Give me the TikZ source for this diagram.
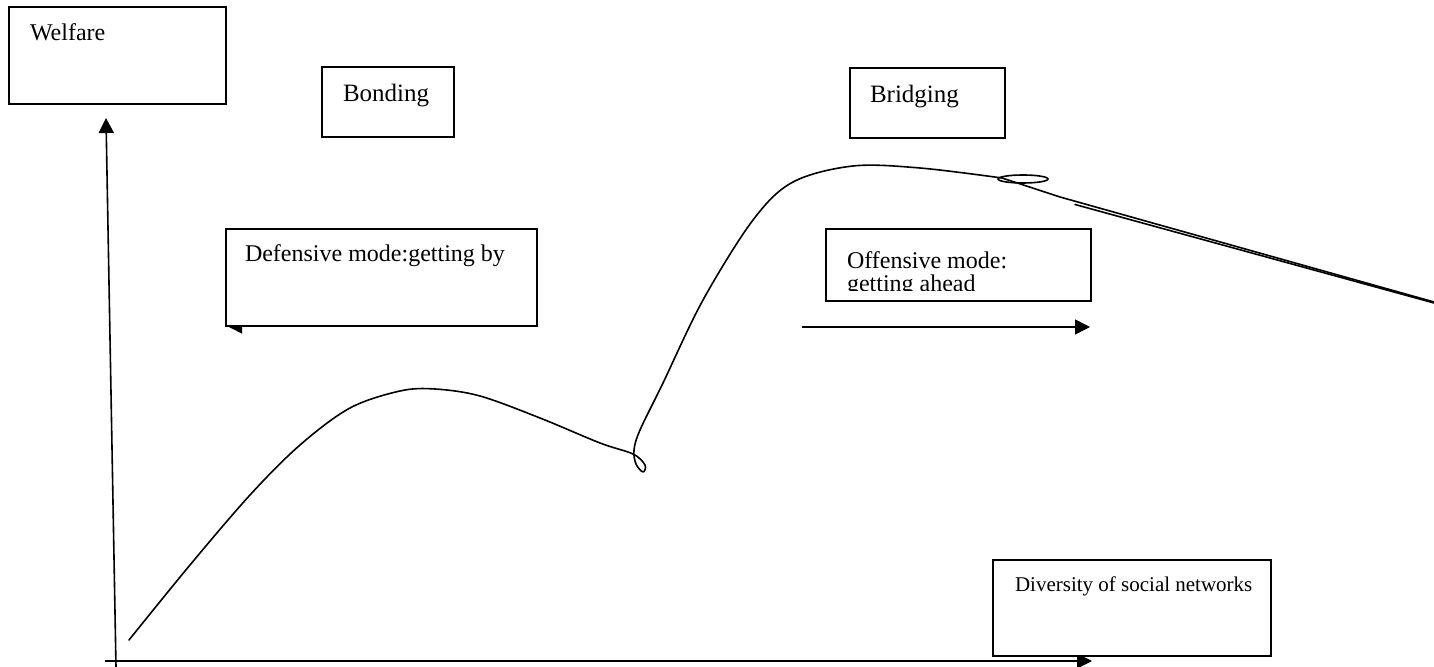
\documentclass[tikz,border=0pt]{standalone}
\usepackage{fontspec}
\setmainfont{Liberation Serif}
\usetikzlibrary{arrows.meta}
\begin{document}
\begin{tikzpicture}[x=0.5pt,y=-0.5pt,
  frame/.style={draw=black,line width=1pt,fill=white,inner sep=0pt,outer sep=0pt,anchor=north west},
  lbl/.style={inner sep=0pt,outer sep=0pt,anchor=base west,font=\fontsize{12pt}{14pt}\selectfont},
  biglbl/.style={lbl,font=\fontsize{12.5pt}{15pt}\selectfont},
  smalllbl/.style={lbl,font=\fontsize{10.5pt}{12pt}\selectfont},
  axis/.style={line width=0.8pt,-{Triangle[length=7.5pt,width=7.5pt]}},
  curve/.style={line width=0.8pt,line join=round,line cap=round}]
\useasboundingbox (0,0) rectangle (1434,667);

% axes
\coordinate (yfoot) at (116,667);
\coordinate (ytip) at (106,118);
\coordinate (xfoot) at (105,661);
\coordinate (xtip) at (1092,661);
\draw[axis] (yfoot) -- (ytip);
\draw[axis] (xfoot) -- (xtip);

% welfare curve
\draw[curve] plot[smooth,tension=0.55] coordinates {
  (129,640) (190,565) (250,495) (300,445) (350,408) (400,391) (435,389)
  (480,396) (540,418) (600,443) (633,454) (645,465) (643,472) (636,464)
  (634,450) (640,430) (663,383) (703,300) (753,220) (793,182) (853,166)
  (920,168) (1002,178)} coordinate (bend);
\coordinate (knee) at (1060,197);
\coordinate (tailend) at (1434,302);
\draw[curve] (bend) -- (knee) -- (tailend);
\coordinate (dblstart) at (1075,204.5);
\coordinate (dblend) at (1434,303);
\draw[curve] (dblstart) -- (dblend);
\draw[line width=0.8pt] (1023,179) ellipse [x radius=12.5pt, y radius=2pt];

% direction arrows
\coordinate (defR) at (537,326);
\coordinate (defL) at (227,326);
\draw[axis] (defR) -- (defL);
\coordinate (offL) at (802,327);
\coordinate (offR) at (1090,327);
\draw[axis] (offL) -- (offR);

% boxes
\node[frame,minimum width=108.5pt,minimum height=48.5pt] (welfarebox) at (9,7) {};
\node[frame,minimum width=66pt,minimum height=35pt] (bondingbox) at (322,67) {};
\node[frame,minimum width=77.5pt,minimum height=35pt] (bridgingbox) at (850,68) {};
\node[frame,minimum width=155.5pt,minimum height=48.5pt] (defbox) at (226,229) {};
\node[frame,minimum width=132.5pt,minimum height=36pt] (offbox) at (826,229) {};
\node[frame,minimum width=139pt,minimum height=48pt] (divbox) at (993,560) {};

% labels
\node[lbl] (welfare) at (30,41) {Welfare};
\node[biglbl] (bonding) at (343,102) {Bonding};
\node[biglbl] (bridging) at (870,103) {Bridging};
\node[lbl] (defmode) at (245,262) {Defensive mode:getting by};
\begin{scope}
  \clip (826,229) rectangle (1090,291);
  \node[lbl] (offmode) at (847,269) {Offensive mode:};
  \node[lbl] (offahead) at (847,292) {getting ahead};
\end{scope}
\node[smalllbl] (diversity) at (1015,591) {Diversity of social networks};
\end{tikzpicture}
\end{document}
